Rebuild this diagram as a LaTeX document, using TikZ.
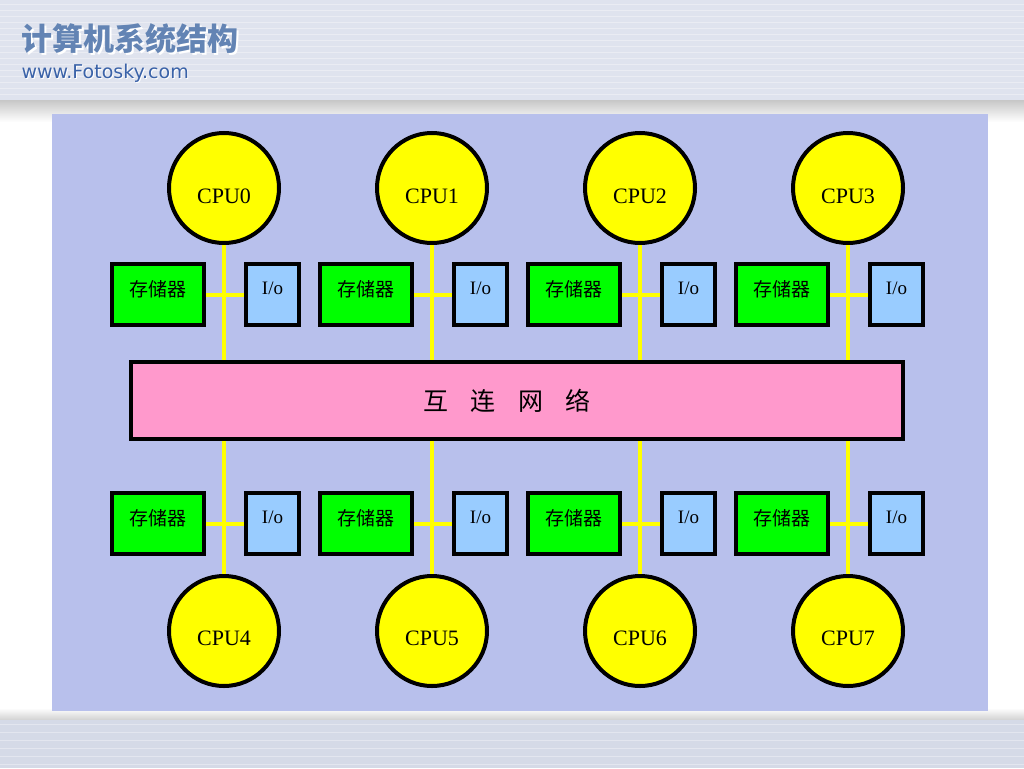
\documentclass[tikz,border=0pt]{standalone}
\usepackage{fontspec}
\setmainfont{Liberation Serif}
\newfontfamily\cjk{Noto Sans CJK SC}
\newfontfamily\hdsans{DejaVu Sans}
\pgfdeclarelayer{back}
\pgfdeclarelayer{mid}
\pgfsetlayers{back,mid,main}
\definecolor{panel}{HTML}{B8C0EC}
\definecolor{hdr}{HTML}{DFE3EE}
\definecolor{ftr}{HTML}{D5DAE7}
\definecolor{cpuY}{HTML}{FFFF00}
\definecolor{memG}{HTML}{00FF00}
\definecolor{ioB}{HTML}{99CCFF}
\definecolor{netP}{HTML}{FF99CC}
\definecolor{titleB}{HTML}{6384B4}
\definecolor{urlB}{HTML}{3A62A8}
\tikzset{
  cpu/.style={circle, draw=black, line width=4pt, fill=cpuY, minimum size=110pt, inner sep=0pt},
  cputxt/.style={inner sep=0pt, font=\fontsize{22}{22}\selectfont},
  mem/.style={rectangle, draw=black, line width=4pt, fill=memG, minimum width=92pt, minimum height=61pt, inner sep=0pt},
  memtxt/.style={inner sep=0pt, font=\cjk\fontsize{19}{19}\selectfont},
  iobox/.style={rectangle, draw=black, line width=4pt, fill=ioB, minimum width=53pt, minimum height=61pt, inner sep=0pt},
  iotxt/.style={inner sep=0pt, font=\fontsize{19}{19}\selectfont},
  net/.style={rectangle, draw=black, line width=4pt, fill=netP, minimum width=772pt, minimum height=77pt, inner sep=0pt, font=\cjk\fontsize{25}{25}\selectfont},
  bus/.style={draw=cpuY, line width=4pt}
}
\begin{document}
\begin{tikzpicture}[x=1pt,y=-1pt]
\useasboundingbox (0,0) rectangle (1024,768);
\begin{pgfonlayer}{back}
  \fill[white] (0,0) rectangle (1024,768);
  % header band
  \fill[hdr] (0,0) rectangle (1024,100);
  \foreach \yy in {4,10,...,98} {\draw[white, opacity=0.35, line width=0.8pt] (0,\yy) -- (1024,\yy);}
  \shade[top color=black!22, bottom color=white] (0,100) rectangle (1024,122);
  % footer band
  \shade[top color=white, bottom color=black!18] (0,708) rectangle (1024,720);
  \fill[ftr] (0,720) rectangle (1024,768);
  \foreach \yy in {724,732,...,768} {\draw[white, opacity=0.35, line width=0.8pt] (0,\yy) -- (1024,\yy);}
  % panel
  \fill[panel] (52,114) rectangle (988,711);
\end{pgfonlayer}
% header texts
\node[anchor=west, text=white, font=\cjk\bfseries\fontsize{31}{31}\selectfont] at (20,41) {计算机系统结构};
\node[anchor=west, text=titleB, font=\cjk\bfseries\fontsize{31}{31}\selectfont] (title) at (18,39) {计算机系统结构};
\node[anchor=west, text=white, font=\hdsans\fontsize{19}{19}\selectfont] at (19,74) {www.Fotosky.com};
\node[anchor=west, text=urlB, font=\hdsans\fontsize{19}{19}\selectfont] (url) at (18,73) {www.Fotosky.com};
% interconnect
\node[net] (net) at (517,400.5) {\hspace*{-20pt}互\hspace{0.9em}连\hspace{0.9em}网\hspace{0.9em}络};
% top row
\foreach \i/\x in {0/224,1/432,2/640,3/848} {
  \node[cpu] (c\i) at (\x,188) {};
  \node[cputxt] (tc\i) at (\x,196.5) {CPU\i};
  \node[mem] (mt\i) at (\x-66,294.5) {};
  \node[memtxt] (tmt\i) at (\x-66,289) {存储器};
  \node[iobox] (it\i) at (\x+48.5,294.5) {};
  \node[iotxt] (tit\i) at (\x+48.5,288.5) {I/o};
}
% bottom row
\foreach \i/\j/\x in {4/0/224,5/1/432,6/2/640,7/3/848} {
  \node[cpu] (c\i) at (\x,631) {};
  \node[cputxt] (tc\i) at (\x,638.5) {CPU\i};
  \node[mem] (mb\j) at (\x-66,523.5) {};
  \node[memtxt] (tmb\j) at (\x-66,518) {存储器};
  \node[iobox] (ib\j) at (\x+48.5,523.5) {};
  \node[iotxt] (tib\j) at (\x+48.5,517.5) {I/o};
}
\begin{pgfonlayer}{mid}
\foreach \i in {0,1,2,3} {
  \draw[bus] (c\i.south) -- (c\i.south |- net.north);
  \draw[bus] (mt\i.east) -- (it\i.west);
}
\foreach \i/\j in {4/0,5/1,6/2,7/3} {
  \draw[bus] (c\i.north) -- (c\i.north |- net.south);
  \draw[bus] (mb\j.east) -- (ib\j.west);
}
\end{pgfonlayer}
\end{tikzpicture}
\end{document}
